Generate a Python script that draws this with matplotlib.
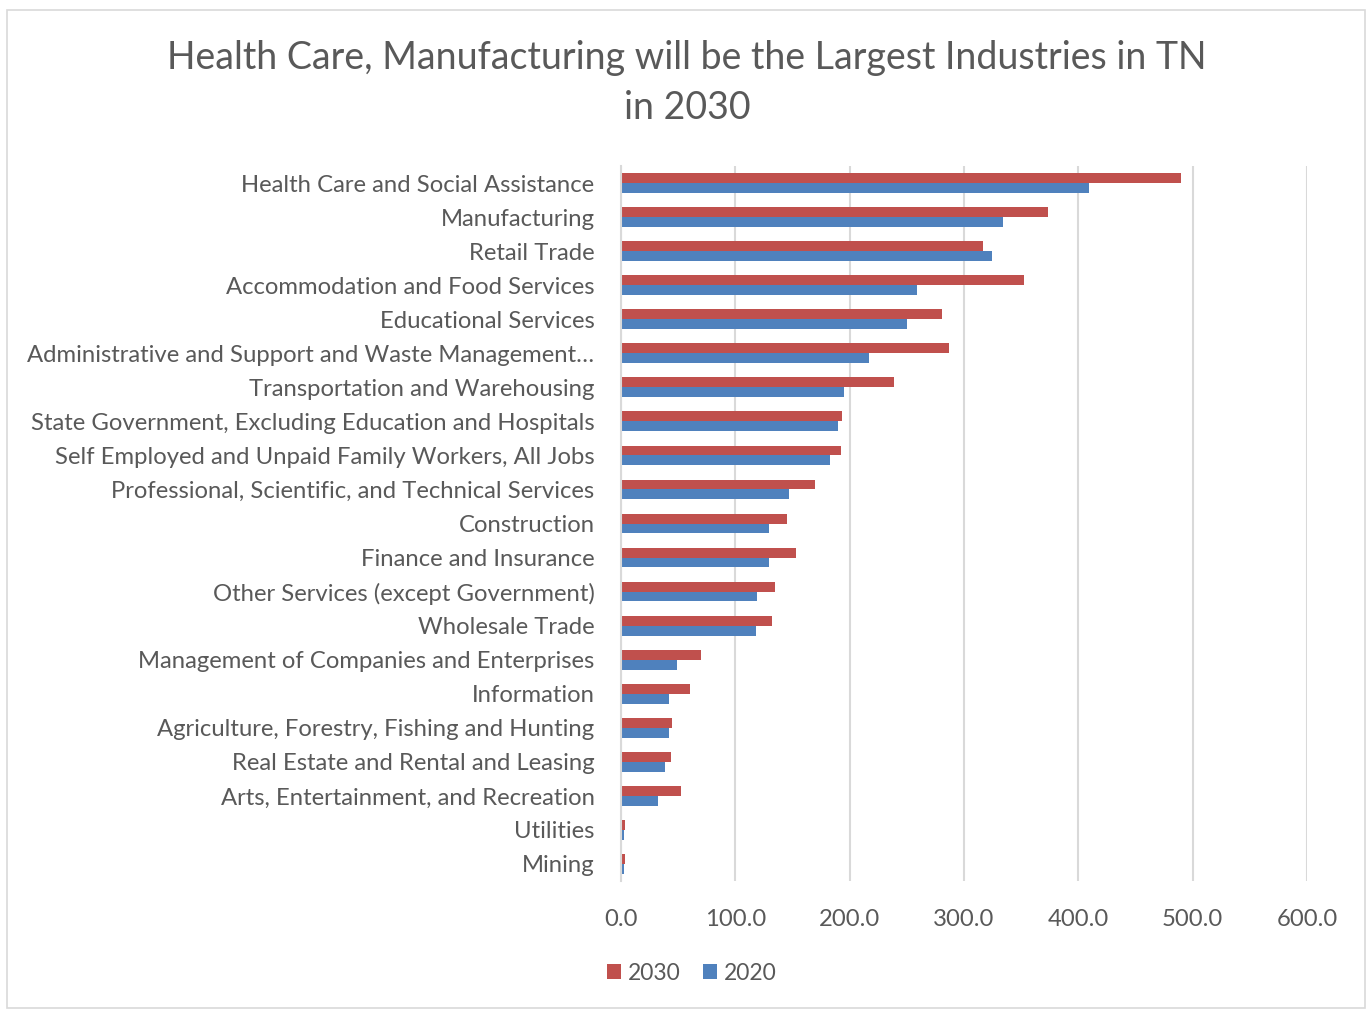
import matplotlib
matplotlib.use("Agg")
import matplotlib.pyplot as plt
from matplotlib.patches import Rectangle
import numpy as np

industries = [
    "Health Care and Social Assistance",
    "Manufacturing",
    "Retail Trade",
    "Accommodation and Food Services",
    "Educational Services",
    "Administrative and Support and Waste Management\u2026",
    "Transportation and Warehousing",
    "State Government, Excluding Education and Hospitals",
    "Self Employed and Unpaid Family Workers, All Jobs",
    "Professional, Scientific, and Technical Services",
    "Construction",
    "Finance and Insurance",
    "Other Services (except Government)",
    "Wholesale Trade",
    "Management of Companies and Enterprises",
    "Information",
    "Agriculture, Forestry, Fishing and Hunting",
    "Real Estate and Rental and Leasing",
    "Arts, Entertainment, and Recreation",
    "Utilities",
    "Mining",
]
jobs_2030 = [490.0, 373.7, 316.7, 352.9, 280.5, 287.2, 239.0, 193.5, 192.4, 169.5,
             145.2, 153.4, 134.3, 132.0, 70.0, 60.3, 45.0, 43.5, 52.9, 3.2, 3.2]
jobs_2020 = [409.0, 334.5, 324.4, 259.0, 250.0, 216.8, 195.4, 190.0, 182.7, 146.9,
             129.6, 129.6, 119.0, 117.9, 49.0, 42.4, 41.8, 38.5, 32.6, 2.4, 2.4]
x_ticks = [0, 100, 200, 300, 400, 500, 600]

RED = "#C0504D"
BLUE = "#4F81BD"
TEXT = "#595959"
GRID = "#D9D9D9"

plt.rcParams["font.family"] = ["Lato", "DejaVu Sans"]

W, H = 1372, 1011
fig = plt.figure(figsize=(W / 100, H / 100), dpi=100)

# chart frame
fig.patches.append(Rectangle((7 / W, 3 / H), (W - 14) / W, (H - 13) / H,
                             transform=fig.transFigure, fill=False,
                             edgecolor="#D9D9D9", linewidth=1.2))

left, right, top, bottom = 621, 1307, 166, 881
ax = fig.add_axes([left / W, 1 - bottom / H, (right - left) / W, (bottom - top) / H])

n = len(industries)
y = np.arange(n)
h = 0.29
ax.barh(y - h / 2, jobs_2030, height=h, color=RED, label="2030", zorder=3)
ax.barh(y + h / 2, jobs_2020, height=h, color=BLUE, label="2020", zorder=3)

ax.set_ylim(n - 0.5, -0.5)
ax.set_xlim(0, 600)
ax.set_yticks(y)
ax.set_yticklabels(industries, fontsize=17.2, color=TEXT)
ax.set_xticks(x_ticks)
ax.set_xticklabels([f"{v:.1f}" for v in x_ticks], fontsize=17.2, color=TEXT)
ax.tick_params(axis="y", length=0, pad=19)
ax.tick_params(axis="x", length=0, pad=20)
ax.grid(axis="x", color=GRID, linewidth=1.5, zorder=0)
for s in ["top", "right", "bottom"]:
    ax.spines[s].set_visible(False)
ax.spines["left"].set_color(GRID)
ax.spines["left"].set_linewidth(1.5)
ax.spines["left"].set_zorder(4)

fig.text(687 / W, 1 - 83 / H,
         "Health Care, Manufacturing will be the Largest Industries in TN\nin 2030",
         ha="center", va="center", fontsize=27, color=TEXT, linespacing=1.45)

fig.legend(loc="center", bbox_to_anchor=(692 / W, 1 - 973 / H), ncol=2,
           frameon=False, fontsize=16.5, labelcolor=TEXT, handlelength=0.6,
           handleheight=0.6, handletextpad=0.3, columnspacing=1.0)

fig.savefig("out.png", dpi=100, facecolor="white")
